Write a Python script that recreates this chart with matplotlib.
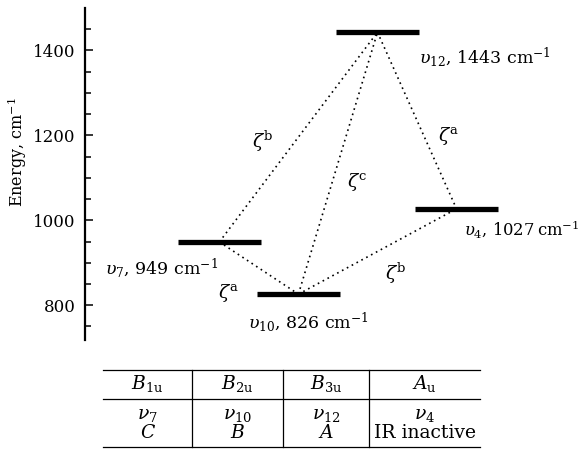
import numpy as np
import matplotlib
matplotlib.use('Agg')
import matplotlib.pyplot as plt

# vibrational levels
mode_num = ['7', '10', '12', '4']
energies = [949, 826, 1443, 1027]
xpos = [0, 1, 2, 3]
# coriolis couplings (from, to, type)
couplings = [(0, 2, 'b'), (0, 1, 'a'), (1, 2, 'c'), (2, 3, 'a'), (1, 3, 'b')]
# label offsets in pixels (layout only)
lev_off = [(-1.5, -26, 'right'), (-50, -28, 'left'), (42, -25, 'left'), (7, -20, 'left')]
lev_size = [12.5, 12.5, 12.5, 11.8]
lev_gap = [' ', ' ', ' ', '\u2009']
zeta_off = [(-36, -4), (-30, -25), (19, -19), (31, -15), (18, -22)]

# table below the diagram
sym_labels = [r'$B_{1\mathrm{u}}$', r'$B_{2\mathrm{u}}$', r'$B_{3\mathrm{u}}$', r'$A_{\mathrm{u}}$']
nu_labels = [r'$\nu_{7}$', r'$\nu_{10}$', r'$\nu_{12}$', r'$\nu_{4}$']
band_labels = [r'$C$', r'$B$', r'$A$', 'IR inactive']

W, H = 583, 455
fig = plt.figure(figsize=(W/100, H/100), dpi=100)
ax = fig.add_axes([85/W, (H-340)/H, (W-85)/W, 332/H])

serif = 'DejaVu Serif'
for i in range(4):
    ax.plot([xpos[i]-0.525, xpos[i]+0.525], [energies[i], energies[i]],
            color='black', lw=3.8, solid_capstyle='butt', zorder=3)
    dx, dy, ha = lev_off[i]
    lab = r'$\upsilon_{%s}$, %d%scm$^{\mathregular{-1}}$' % (mode_num[i], energies[i], lev_gap[i])
    ax.annotate(lab, xy=(xpos[i], energies[i]), xytext=(dx, dy),
                textcoords='offset pixels', ha=ha, va='center',
                fontsize=lev_size[i], family=serif, math_fontfamily='dejavuserif')

for k, (a, b, z) in enumerate(couplings):
    ax.plot([xpos[a], xpos[b]], [energies[a], energies[b]], color='black',
            lw=1.2, linestyle=(0, (1, 2.3)), zorder=2)
    mx = (xpos[a] + xpos[b]) / 2
    my = (energies[a] + energies[b]) / 2
    ax.annotate(r'$\zeta^{\mathrm{%s}}$' % z, xy=(mx, my), xytext=zeta_off[k],
                textcoords='offset pixels', ha='center', va='center',
                fontsize=13.5, math_fontfamily='dejavuserif')

ax.set_xlim(-1.70, 4.60)
ax.set_ylim(718, 1500)
for s in ['top', 'right', 'bottom']:
    ax.spines[s].set_visible(False)
ax.spines['left'].set_linewidth(1.6)
ax.set_xticks([])
ax.set_yticks([800, 1000, 1200, 1400])
ax.set_yticks(np.arange(750, 1500, 50), minor=True)
ax.tick_params(axis='y', which='major', direction='in', length=6, width=1.1,
               labelsize=12, pad=7)
ax.tick_params(axis='y', which='minor', direction='in', length=4.5, width=1.1)
for t in ax.get_yticklabels():
    t.set_family(serif)
fig.text(17/W, 1 - 152/H, r'Energy, cm$^{\mathregular{-1}}$', rotation=90,
         ha='center', va='center', fontsize=11.5, family=serif,
         math_fontfamily='dejavuserif')

# table drawn on a pixel overlay
tab = fig.add_axes([0, 0, 1, 1])
tab.set_xlim(0, W)
tab.set_ylim(H, 0)
tab.axis('off')
col_edges = [103, 192, 283, 369, 480]
row_lines = [370, 399, 447]
for y in row_lines:
    tab.plot([col_edges[0], col_edges[-1]], [y, y], color='black', lw=0.9)
for x in col_edges[1:-1]:
    tab.plot([x, x], [row_lines[0], row_lines[-1]], color='black', lw=0.9)
for j in range(4):
    cx = (col_edges[j] + col_edges[j+1]) / 2
    tab.text(cx, 384, sym_labels[j], ha='center', va='center', fontsize=13.5,
             math_fontfamily='dejavuserif', family=serif)
    tab.text(cx, 415, nu_labels[j], ha='center', va='center', fontsize=13.5,
             math_fontfamily='dejavuserif', family=serif)
    tab.text(cx, 433, band_labels[j], ha='center', va='center', fontsize=13.5,
             math_fontfamily='dejavuserif', family=serif)

fig.savefig('out.png', dpi=100)
